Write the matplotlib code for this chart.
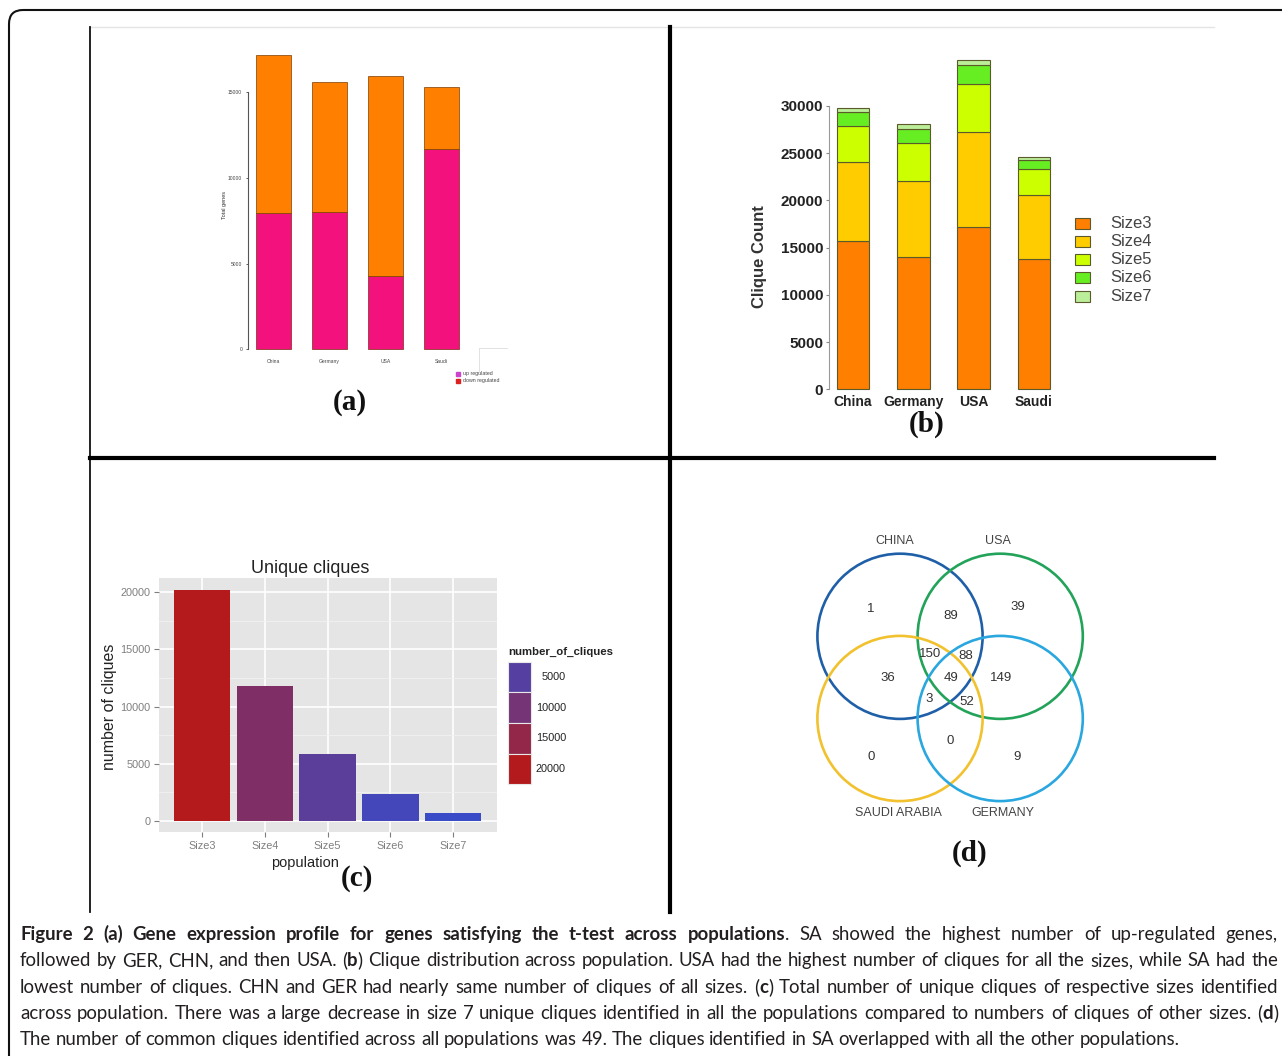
import matplotlib
matplotlib.use("Agg")
import matplotlib.pyplot as plt
import numpy as np
from matplotlib import font_manager as fm
from matplotlib.colors import LinearSegmentedColormap, Normalize
from matplotlib.patches import Rectangle, Circle, FancyBboxPatch


def pick(*names):
    for n in names:
        try:
            fm.findfont(fm.FontProperties(family=n), fallback_to_default=False)
            return n
        except ValueError:
            continue
    return "DejaVu Sans"


SANS = pick("Liberation Sans", "Arimo", "DejaVu Sans")
NARROW = pick("Liberation Sans Narrow", "Liberation Sans", "DejaVu Sans")
SERIF = pick("Liberation Serif", "DejaVu Serif")
CAPFONT = pick("Liberation Sans Narrow", "Lato", "Open Sans")
plt.rcParams["font.family"] = [SANS, "DejaVu Sans"]

# ---------------------------------------------------------------------------
# Data
# ---------------------------------------------------------------------------
# (a) gene expression profile
countries = ["China", "Germany", "USA", "Saudi"]
up_regulated = [7970, 8010, 4280, 11670]
down_regulated = [9200, 7590, 11670, 3650]

# (b) clique distribution per population
size_labels = ["Size3", "Size4", "Size5", "Size6", "Size7"]
clique_size3 = [15710, 14050, 17230, 13770]
clique_size4 = [8340, 8020, 10030, 6780]
clique_size5 = [3850, 3990, 5050, 2790]
clique_size6 = [1480, 1550, 2010, 950]
clique_size7 = [390, 470, 560, 290]

# (c) unique cliques by size
unique_cliques = [20190, 11830, 5890, 2330, 700]
legend_breaks_c = [5000, 10000, 15000, 20000]

# (d) venn of common cliques
venn_sets = ["CHINA", "USA", "SAUDI ARABIA", "GERMANY"]
venn_counts = [1, 89, 39, 150, 88, 36, 49, 149, 3, 52, 0, 0, 9]

# caption (text, weight) runs per line
caption_lines = [
    [("Figure 2 (a) Gene expression profile for genes satisfying the t-test across populations", "bold"),
     (". SA showed the highest number of up-regulated genes,", "normal")],
    [("followed by GER, CHN, and then USA. (", "normal"), ("b", "bold"),
     (") Clique distribution across population. USA had the highest number of cliques for all the sizes, while SA had the", "normal")],
    [("lowest number of cliques. CHN and GER had nearly same number of cliques of all sizes. (", "normal"), ("c", "bold"),
     (") Total number of unique cliques of respective sizes identified", "normal")],
    [("across population. There was a large decrease in size 7 unique cliques identified in all the populations compared to numbers of cliques of other sizes. (", "normal"),
     ("d", "bold"), (")", "normal")],
    [("The number of common cliques identified across all populations was 49. The cliques identified in SA overlapped with all the other populations.", "normal")],
]

# ---------------------------------------------------------------------------
# Layout helpers (pixel coordinates, y measured from the top)
# ---------------------------------------------------------------------------
W, H = 1282, 1056
fig = plt.figure(figsize=(W / 100, H / 100), dpi=100)


def box(x0, y0, x1, y1):
    return [x0 / W, 1 - y1 / H, (x1 - x0) / W, (y1 - y0) / H]


# ---- (a) gene expression ----
C_UP, C_DOWN = "#f2117d", "#ff8000"
ax = fig.add_axes(box(247.7, 40, 480, 356), facecolor="none")
xa = np.arange(len(countries))
ax.bar(xa, up_regulated, width=0.63, color=C_UP, edgecolor="#7a2a10", lw=0.5)
ax.bar(xa, down_regulated, bottom=up_regulated, width=0.63, color=C_DOWN,
       edgecolor="#7a3b00", lw=0.5)
ax.set_xlim(-0.457, 3.69)
ax.set_ylim(-391, 18053)
for s in ("top", "right", "bottom"):
    ax.spines[s].set_visible(False)
ax.spines["left"].set_bounds(0, 15000)
ax.spines["left"].set_color("#555555")
ax.spines["left"].set_linewidth(0.8)
ax.set_yticks([0, 5000, 10000, 15000])
ax.tick_params(axis="y", length=1.8, width=0.6, labelsize=3.6, pad=2.2, colors="#444444")
ax.set_xticks(xa, countries)
ax.tick_params(axis="x", length=0, labelsize=3.6, pad=2.5, labelcolor="#444444")
ax.set_ylabel("Total genes", fontsize=4, color="#333333")
ax.yaxis.set_label_coords(-0.09, 0.478)

# ---- (b) clique distribution ----
C_SIZES = ["#ff7f00", "#ffcc00", "#ccff00", "#66ee22", "#bbee99"]
stack = [clique_size3, clique_size4, clique_size5, clique_size6, clique_size7]
ax = fig.add_axes(box(829.3, 55, 1060, 392), facecolor="none")
xb = np.arange(len(countries))
bottom = np.zeros(len(countries))
for vals, col in zip(stack, C_SIZES):
    ax.bar(xb, vals, bottom=bottom, width=0.54, color=col, edgecolor="#5a5a2a", lw=0.8)
    bottom += np.array(vals)
ax.set_xlim(-0.393, 3.433)
ax.set_ylim(-286, 35398)
for s in ("top", "right", "bottom"):
    ax.spines[s].set_visible(False)
ax.spines["left"].set_bounds(0, 30000)
ax.spines["left"].set_color("#999999")
ax.set_yticks(np.arange(0, 30001, 5000))
ax.tick_params(axis="y", length=2.5, width=0.8, color="#888888", pad=2)
for t in ax.get_yticklabels():
    t.set_fontsize(11); t.set_fontweight("bold"); t.set_color("#222222")
ax.set_xticks(xb, countries)
ax.tick_params(axis="x", length=0, pad=2.2)
for t in ax.get_xticklabels():
    t.set_fontsize(10); t.set_fontweight("bold"); t.set_color("#222222")
ax.set_ylabel("Clique Count", fontsize=12, fontweight="bold", color="#333333")
ax.yaxis.set_label_coords(-0.268, 0.401)

# ---- (c) unique cliques ----
cmap = LinearSegmentedColormap.from_list("uc", ["#3a4bc8", "#b41a1c"])
norm = Normalize(min(unique_cliques), max(unique_cliques))
ax_c = fig.add_axes(box(159.3, 578.3, 497.3, 831.7), facecolor="#e5e5e5")
xc = np.arange(1, len(size_labels) + 1)
ax_c.set_axisbelow(True)
ax_c.bar(xc, unique_cliques, width=0.9, color=cmap(norm(unique_cliques)))
ax_c.set_xlim(0.314, 5.707)
ax_c.set_ylim(-935, 21215)
ax_c.set_yticks(np.arange(0, 20001, 5000))
ax_c.set_yticks(np.arange(2500, 20001, 5000), minor=True)
ax_c.set_xticks(xc, size_labels, fontfamily=NARROW)
ax_c.grid(which="major", color="white", lw=1.2)
ax_c.grid(which="minor", axis="y", color="#f2f2f2", lw=0.6)
for s in ax_c.spines.values():
    s.set_visible(False)
ax_c.tick_params(which="major", length=3.6, width=0.8, color="#7f7f7f",
                 labelcolor="#7f7f7f", labelsize=7.8, pad=2.8)
ax_c.tick_params(which="minor", length=0)
for t in ax_c.get_yticklabels():
    t.set_fontfamily(NARROW)
ax_c.set_title("Unique cliques", fontsize=13, fontfamily=NARROW, color="#222222",
               x=(310 - 159.3) / 338, pad=3.5)
ax_c.set_ylabel("number of cliques", fontsize=11.5, color="#222222")
ax_c.yaxis.set_label_coords(-0.125, 0.493)
ax_c.set_xlabel("population", fontsize=10.5, fontfamily=NARROW, color="#222222")
ax_c.xaxis.set_label_coords(0.43, -0.095)

# ---- (d) venn diagram ----
ax_d = fig.add_axes(box(790, 520, 1150, 880), facecolor="none")
ax_d.set_xlim(790, 1150)
ax_d.set_ylim(880, 520)
ax_d.axis("off")
venn_centers = [(900, 636.3), (1000.2, 636.3), (900, 718.5), (1000.2, 718.5)]
venn_colors = ["#1f5fa8", "#23a35a", "#f2c12e", "#2aa7df"]
venn_radius = 82.6
for (cx, cy), col in zip(venn_centers, venn_colors):
    ax_d.add_patch(Circle((cx, cy), venn_radius, fill=False, ec=col, lw=1.9))
venn_name_xy = [(894.3, 540.7), (998.3, 540.7), (898.3, 813.3), (1003.3, 813.3)]
for name, (tx, ty) in zip(venn_sets, venn_name_xy):
    ax_d.text(tx, ty, name, fontsize=9, color="#444444", ha="center", va="center")
venn_count_xy = [(871, 609.3), (951, 616), (1017.7, 607.3), (930, 654), (966, 656),
                 (888.3, 678.3), (951, 678.3), (1001, 678.3), (929.3, 699.3),
                 (966.7, 701.7), (950, 741), (871, 757.3), (1016.7, 757.3)]
for n, (tx, ty) in zip(venn_counts, venn_count_xy):
    ax_d.text(tx, ty, str(n), fontsize=9.5, color="#333333", ha="center", va="center")

# ---------------------------------------------------------------------------
# Overlay: frame, dividers, legends, panel letters, caption
# ---------------------------------------------------------------------------
ov = fig.add_axes([0, 0, 1, 1], facecolor="none")
ov.set_xlim(0, W)
ov.set_ylim(H, 0)
ov.axis("off")
ov.add_patch(FancyBboxPatch((9, 10), 1400, 1200, boxstyle="round,pad=0,rounding_size=14",
                            fill=False, ec="#111111", lw=1.5))
ov.plot([90, 1214], [27, 27], color="#e4e4e4", lw=1)
ov.plot([90, 90], [27, 912], color="#111111", lw=1.3)
ov.plot([670, 670], [27, 912], color="#000000", lw=3)
ov.plot([90, 1214], [458, 458], color="#000000", lw=3)

# legend (a)
for i, (lab, col) in enumerate([("up regulated", "#cc44cc"), ("down regulated", "#dd2020")]):
    y = 374 + i * 6.7
    ov.add_patch(Rectangle((456, y - 1.8), 4, 3.6, color=col))
    ov.text(462.7, y, lab, fontsize=3.8, color="#444444", va="center")
ov.plot([479, 479], [348, 372], color="#dddddd", lw=0.6)
ov.plot([479, 507], [348, 348], color="#dddddd", lw=0.6)

# legend (b)
for i, (lab, col) in enumerate(zip(size_labels, C_SIZES)):
    y = 223.3 + i * 18.2
    ov.add_patch(Rectangle((1075, y - 5.5), 15, 11, fc=col, ec="#5a5a2a", lw=0.8))
    ov.text(1110, y, lab, fontsize=12, color="#444444", va="center")

# legend (c)
ov.text(508.3, 651.7, "number_of_cliques", fontsize=8.2, fontweight="bold",
        fontfamily=NARROW, color="#222222", va="center")
key_h = 30.65
for i, v in enumerate(legend_breaks_c):
    y0 = 661.7 + i * key_h
    ov.add_patch(Rectangle((508.3, y0), 22.4, key_h, fc=cmap(norm(v)), ec="#e8e8e8", lw=0.8))
    ov.text(566, y0 + key_h / 2, str(v), fontsize=7.8, fontfamily=NARROW, color="#222222",
            ha="right", va="center")

# panel letters
for lab, (tx, ty) in zip(["(a)", "(b)", "(c)", "(d)"],
                         [(350, 403), (926.7, 424), (357, 879), (970, 853.3)]):
    ov.text(tx, ty, lab, fontsize=21, fontweight="bold", fontfamily=SERIF,
            ha="center", va="center", color="#111111")

# caption with justified lines
renderer = fig.canvas.get_renderer()


def text_w(s, size, weight):
    fp = fm.FontProperties(family=CAPFONT, size=size, weight=weight)
    return renderer.get_text_width_height_descent(s, fp, ismath=False)[0]


def split_words(runs):
    words = [[]]
    for txt, wt in runs:
        parts = txt.split(" ")
        for i, p in enumerate(parts):
            if i > 0:
                words.append([])
            if p:
                words[-1].append((p, wt))
    return [w for w in words if w]


CAP_L, CAP_R = 20, 1278
base = 12.5
sp = text_w("a a", base, "normal") - text_w("aa", base, "normal")
widest = 0
for runs in caption_lines[:4]:
    ww = [sum(text_w(s, base, wt) for s, wt in w) for w in split_words(runs)]
    widest = max(widest, sum(ww) + sp * (len(ww) - 1))
cap_size = min(13.6, base * (CAP_R - CAP_L) * 0.99 / widest)
sp = text_w("a a", cap_size, "normal") - text_w("aa", cap_size, "normal")

# whole-pixel baselines keep every word on the same row
cap_baseline = [940, 966, 993, 1019, 1045]
for li, runs in enumerate(caption_lines):
    words = split_words(runs)
    ww = [sum(text_w(s, cap_size, wt) for s, wt in w) for w in words]
    gap = (CAP_R - CAP_L - sum(ww)) / (len(words) - 1) if li < 4 else sp
    x = CAP_L
    for w, wwid in zip(words, ww):
        xx = x
        for s, wt in w:
            ov.text(xx, cap_baseline[li], s, fontsize=cap_size, fontweight=wt,
                    fontfamily=CAPFONT, color="#231f20", va="baseline", ha="left")
            xx += text_w(s, cap_size, wt)
        x += wwid + gap

fig.savefig("out.png", dpi=100)
